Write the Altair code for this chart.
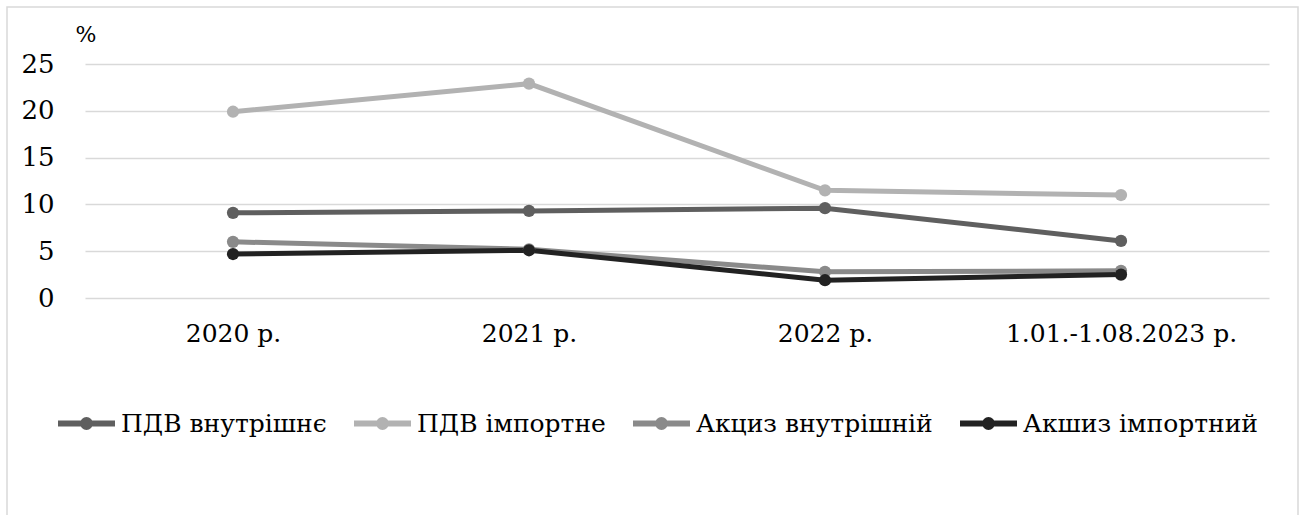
import altair as alt
import pandas as pd

periods = ["2020 р.", "2021 р.", "2022 р.", "1.01.-1.08.2023 р."]
series_names = ["ПДВ внутрішнє", "ПДВ імпортне", "Акциз внутрішній", "Акшиз імпортний"]
pdv_internal = [9.1, 9.3, 9.6, 6.1]
pdv_import = [19.9, 22.9, 11.5, 11.0]
excise_internal = [6.0, 5.2, 2.8, 2.9]
excise_import = [4.7, 5.1, 1.9, 2.5]
colors = ["#5f5f5f", "#b2b2b2", "#8a8a8a", "#222222"]
y_ticks = [0, 5, 10, 15, 20, 25]

rows = []
for name, vals in zip(series_names, [pdv_internal, pdv_import, excise_internal, excise_import]):
    for p, v in zip(periods, vals):
        rows.append({"period": p, "series": name, "value": v})
df = pd.DataFrame(rows)

FONT = "DejaVu Serif"

legend_path = "M-1,0H1M-0.12,0A0.12,0.12 0 1,0 0.12,0A0.12,0.12 0 1,0 -0.12,0"

lines = alt.Chart(df).mark_line(
    point=alt.OverlayMarkDef(filled=True, size=150, opacity=1),
    strokeWidth=5,
).encode(
    x=alt.X("period:O", sort=periods, scale=alt.Scale(type="point", padding=0.5),
            axis=alt.Axis(title=None, labelAngle=0, ticks=False, domain=False,
                          labelPadding=23, labelFontSize=25,
                          labelColor="#000000", labelLimit=0)),
    y=alt.Y("value:Q", scale=alt.Scale(domain=[0, 25], nice=False),
            axis=alt.Axis(values=y_ticks, title="%", titleAngle=0, titleAlign="left",
                          titleBaseline="alphabetic", titleX=-10, titleY=-23,
                          titleFontSize=22, titleFontWeight="normal",
                          titleColor="#000000",
                          ticks=False, domain=False, labelPadding=31,
                          labelFontSize=26, labelColor="#000000",
                          grid=True, gridColor="#d9d9d9", gridWidth=1.5)),
    color=alt.Color("series:N", sort=series_names,
                    scale=alt.Scale(domain=series_names, range=colors),
                    legend=alt.Legend(title=None, orient="none", direction="horizontal",
                                      legendX=-30, legendY=328,
                                      symbolType=legend_path, symbolSize=3249,
                                      symbolStrokeWidth=6, labelOffset=3,
                                      columnPadding=15, labelFontSize=25,
                                      labelColor="#000000",
                                      labelLimit=0)),
)

border = alt.Chart(alt.Data(values=[{"a": 1}])).mark_rect(
    fillOpacity=0, stroke="#d9d9d9", strokeWidth=1.5
).encode(
    x=alt.value(-78), x2=alt.value(1213), y=alt.value(-57), y2=alt.value(480)
)

chart = alt.layer(border, lines).properties(
    width=1184, height=234,
    padding={"left": 85, "top": 64, "right": 35, "bottom": 217},
    autosize="none",
    background="#ffffff",
).configure(font=FONT).configure_axis(
    labelFont=FONT, titleFont=FONT
).configure_legend(
    labelFont=FONT
).configure_view(stroke=None)

chart.save("out.html", embed_options={"renderer": "svg", "actions": False})
